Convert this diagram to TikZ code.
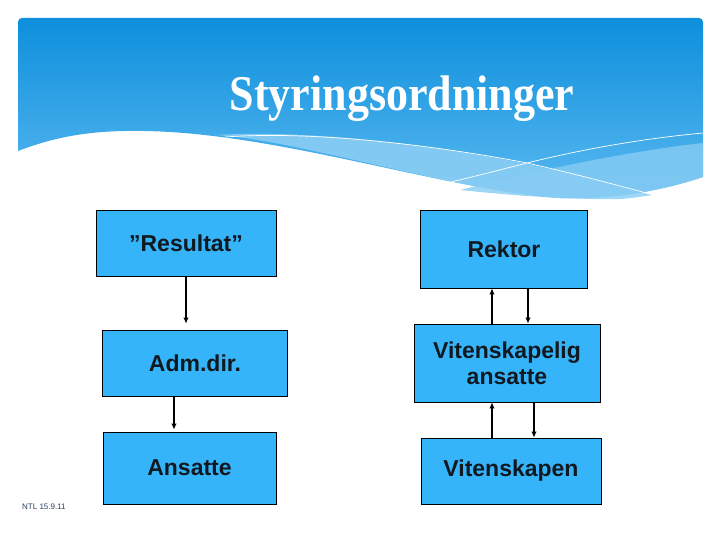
\documentclass[tikz,border=0pt]{standalone}
\usepackage{fontspec}
\setmainfont{Liberation Sans}
\newfontfamily\titlefont{Liberation Serif}
\usetikzlibrary{arrows.meta,calc}
\definecolor{boxblue}{HTML}{36B4F9}
\definecolor{bandtop}{HTML}{0D8FDC}
\definecolor{bandbot}{HTML}{5AB9F0}
\definecolor{lightA}{HTML}{8DCFF5}
\definecolor{lightB}{HTML}{86CCF4}
\definecolor{foot}{HTML}{2A3F5F}
\definecolor{boxtext}{HTML}{101820}
\begin{document}
\begin{tikzpicture}[x=1pt,y=-1pt,
  orgbox/.style={draw=black,line width=0.8pt,fill=boxblue,inner sep=0pt,
    font=\fontsize{23}{26}\selectfont\bfseries,text=boxtext,align=center},
  arr/.style={line width=1.8pt,draw=black,-{Latex[length=6pt,width=5.5pt]}},
  wline/.style={draw=white,line width=0.7pt}]
\useasboundingbox (0,0) rectangle (720,540);
% header band
\shade[top color=bandtop,bottom color=bandbot,rounded corners=4pt]
  (18,151) -- (18,18) -- (703,18) -- (703,100) [sharp corners] -- (703,177)
  .. controls (670,188) and (620,200) .. (560,198)
  .. controls (450,190) and (300,140) .. (170,132)
  .. controls (100,128) and (60,135) .. (18,151) -- cycle;
% light layers
\fill[lightA,opacity=0.85]
  (215,135) .. controls (320,129) and (450,148) .. (527,164)
  .. controls (580,175) and (620,187) .. (652,195)
  .. controls (620,200) .. (560,198)
  .. controls (450,190) and (300,140) .. (215,135) -- cycle;
\fill[lightB,opacity=0.8]
  (460,190) .. controls (560,165) and (640,150) .. (703,143) -- (703,177)
  .. controls (670,188) and (620,200) .. (560,198)
  .. controls (520,196) and (490,193) .. (460,190) -- cycle;
% white thin lines
\draw[wline] (225,137) .. controls (320,130) and (450,148) .. (527,163)
  .. controls (580,175) and (620,186) .. (650,194);
\draw[wline] (443,184) .. controls (480,175) .. (527,163)
  .. controls (600,145) and (660,137) .. (703,133);
% title
\node[anchor=base,text=white,inner sep=0pt] (title) at (402,111)
  {\scalebox{0.88}[1]{\titlefont\bfseries\fontsize{50}{56}\selectfont Styringsordninger}};
% left column
\node[orgbox,minimum width=180pt,minimum height=66pt] (res) at (186,243) {”Resultat”};
\node[orgbox,minimum width=185pt,minimum height=66pt] (adm) at (195,363) {Adm.dir.};
\node[orgbox,minimum width=173pt,minimum height=72pt] (ans) at (189.5,468) {Ansatte};
% right column
\node[orgbox,minimum width=167pt,minimum height=78pt] (rek) at (504,249) {Rektor};
\node[orgbox,minimum width=186pt,minimum height=78pt] (vit) at (507,363) {Vitenskapelig\\ansatte};
\node[orgbox,minimum width=180pt,minimum height=66pt] (vsk) at (511,471) {Vitenskapen};
% connectors
\draw[arr,shorten >=6pt] (res.south) -- (res.south |- adm.north);
\draw[arr,shorten >=2pt] ([xshift=-21pt]adm.south) -- ([xshift=-21pt]adm.south |- ans.north);
\draw[arr] ([xshift=-15pt]vit.north) -- ([xshift=-15pt]vit.north |- rek.south);
\draw[arr] ([xshift=24pt]rek.south) -- ([xshift=24pt]rek.south |- vit.north);
\draw[arr] ([xshift=-19pt]vsk.north) -- ([xshift=-19pt]vsk.north |- vit.south);
\draw[arr] ([xshift=27pt]vit.south) -- ([xshift=27pt]vit.south |- vsk.north);
% footer
\node[anchor=west,text=foot,font=\fontsize{8}{9}\selectfont,inner sep=0pt] (foot) at (22,507) {NTL 15.9.11};
\end{tikzpicture}
\end{document}
